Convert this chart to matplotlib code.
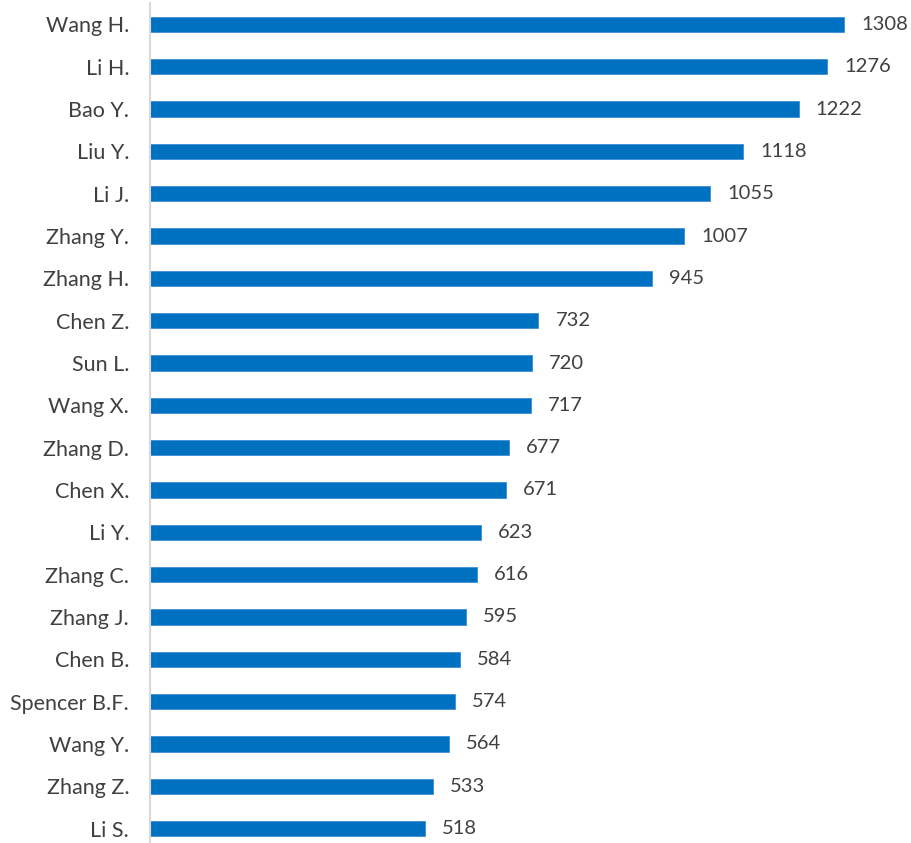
import matplotlib
matplotlib.use("Agg")
import matplotlib.pyplot as plt

# Donnees (du haut vers le bas)
auteurs = ["Wang H.", "Li H.", "Bao Y.", "Liu Y.", "Li J.", "Zhang Y.", "Zhang H.",
           "Chen Z.", "Sun L.", "Wang X.", "Zhang D.", "Chen X.", "Li Y.", "Zhang C.",
           "Zhang J.", "Chen B.", "Spencer B.F.", "Wang Y.", "Zhang Z.", "Li S."]
valeurs = [1308, 1276, 1222, 1118, 1055, 1007, 945, 732, 720, 717, 677, 671,
           623, 616, 595, 584, 574, 564, 533, 518]

plt.rcParams['font.family'] = ['Lato', 'DejaVu Sans']

fig = plt.figure(figsize=(9.11, 8.43), dpi=100)
axe = fig.add_axes([150 / 911, (843 - 849.7) / 843, (893 - 150) / 911, (849.7 - 3.3) / 843])

positions = list(range(len(auteurs)))
axe.barh(positions, valeurs, height=0.36, color="#0070C0", edgecolor="#3D8FD6", linewidth=0.6)

# Etiquettes des valeurs
for pos, val in zip(positions, valeurs):
    axe.text(val + 32, pos, str(val), va="center", ha="left", fontsize=14.5, color="#404040")

axe.set_xlim(0, 1400)
axe.set_ylim(len(auteurs) - 0.5, -0.5)
axe.set_yticks(positions)
axe.set_yticklabels(auteurs, fontsize=15.5, color="#404040")
axe.tick_params(axis="y", length=0, pad=15)
axe.set_xticks([])

for cote in ["top", "right", "bottom"]:
    axe.spines[cote].set_visible(False)
axe.spines["left"].set_color("#D9D9D9")
axe.spines["left"].set_linewidth(1.5)

fig.savefig("out.png", dpi=100)
